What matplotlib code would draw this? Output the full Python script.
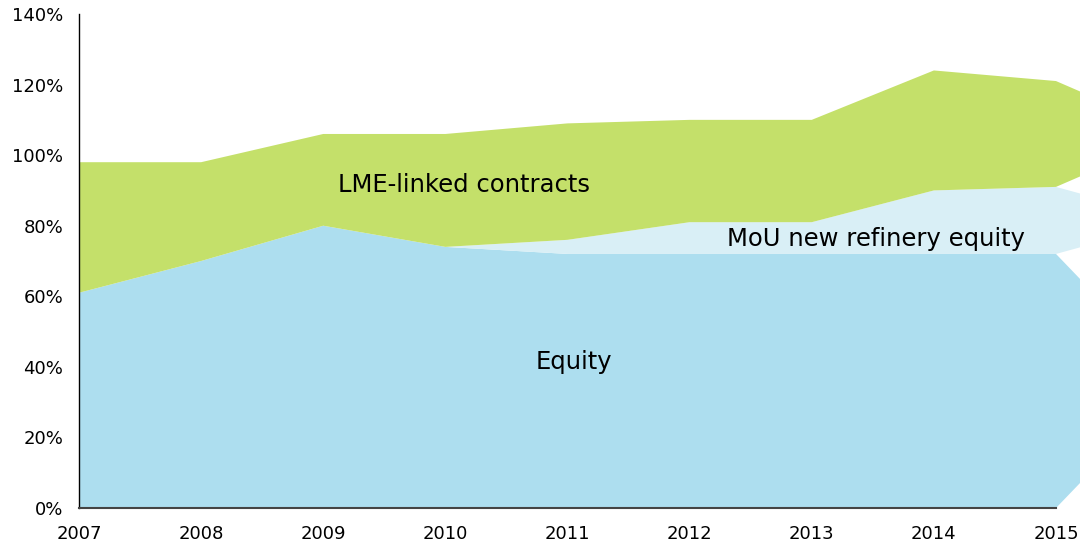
import numpy as np
from matplotlib import pyplot as plt

years = [2007, 2008, 2009, 2010, 2011, 2012, 2013, 2014, 2015]
equity = [61, 70, 80, 74, 72, 72, 72, 72, 72]
mou = [0, 0, 0, 0, 4, 9, 9, 18, 19]
lme = [37, 28, 26, 32, 33, 29, 29, 34, 30]

layers = [
	("Equity", equity, "#addeef"),
	("MoU new refinery equity", mou, "#d9eff6"),
	("LME-linked contracts", lme, "#c4e06a"),
]

# each layer ends with an arrow tip one year after the last point
tipYear = years[-1] + 1

fig = plt.figure(figsize=(10.8, 5.43), dpi=100)
ax = fig.add_axes([79 / 1080, 35 / 543, 1 - 79 / 1080, 494 / 543])

bottom = np.zeros(len(years))
for name, values, color in layers:
	top = bottom + np.array(values, dtype=float)
	mid = (bottom[-1] + top[-1]) / 2
	xs = years + [tipYear]
	ax.fill_between(xs, list(bottom) + [mid], list(top) + [mid], color=color, linewidth=0)
	bottom = top

ax.text(2010.15, 91.5, "LME-linked contracts", fontsize=17.5, ha="center", va="center")
ax.text(2013.53, 76.3, "MoU new refinery equity", fontsize=17.5, ha="center", va="center")
ax.text(2011.05, 41.5, "Equity", fontsize=17.5, ha="center", va="center")

ax.set_xlim(2007, 2015 + 24 / 122.1)
ax.set_ylim(0, 140)
ax.set_xticks(years)
ax.set_xticklabels([str(y) for y in years])
ax.set_yticks(range(0, 141, 20))
ax.set_yticklabels([f"{v}%" for v in range(0, 141, 20)])
ax.tick_params(length=0, labelsize=13)
ax.tick_params(axis="y", pad=11.5)
ax.tick_params(axis="x", pad=12)

ax.spines["top"].set_visible(False)
ax.spines["right"].set_visible(False)
ax.spines["left"].set_color("black")
ax.spines["left"].set_linewidth(1)
ax.spines["bottom"].set_color("#444444")
ax.spines["bottom"].set_linewidth(1.5)
ax.spines["bottom"].set_bounds(2007, 2015)
ax.set_axisbelow(False)

fig.savefig("out.png", dpi=100)
